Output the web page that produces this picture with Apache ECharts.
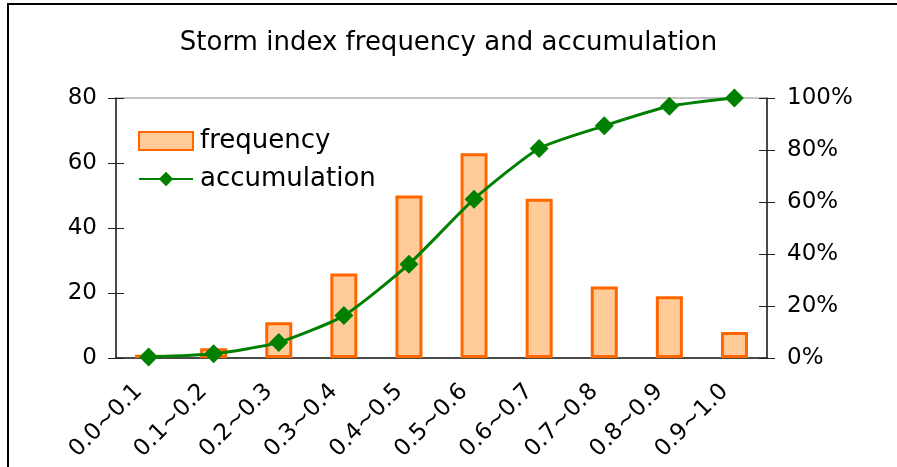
<!DOCTYPE html>
<html>
<head>
<meta charset="utf-8">
<script src="https://cdn.jsdelivr.net/npm/echarts@6/dist/echarts.min.js"></script>
<style>
  html, body { margin: 0; padding: 0; background: #fff; }
  #chart { width: 897px; height: 467px; }
</style>
</head>
<body>
<div id="chart"></div>
<script>
// storm index bins
const categories = ["0.0~0.1", "0.1~0.2", "0.2~0.3", "0.3~0.4", "0.4~0.5",
  "0.5~0.6", "0.6~0.7", "0.7~0.8", "0.8~0.9", "0.9~1.0"]
const frequency = [1, 3, 11, 26, 50, 63, 49, 22, 19, 8]
// cumulative percent
const accumulation = [0.4, 1.6, 6.0, 16.3, 36.1, 61.1, 80.6, 89.3, 96.8, 100]
const leftTicks = [0, 20, 40, 60, 80]
const rightTicks = [0, 20, 40, 60, 80, 100]

const font = "DejaVu Sans"
const axisColor = "#222"
const myChart = echarts.init(document.getElementById("chart"))

// plain axis used only to draw the inner half of the crossing ticks
const innerTicks = (pos, ticks) => ({
  type: "value",
  position: pos,
  min: ticks[0],
  max: ticks[ticks.length - 1],
  interval: 20,
  splitLine: { show: false },
  axisLine: { show: false },
  axisLabel: { show: false },
  axisTick: { show: true, inside: true, length: 8, lineStyle: { color: axisColor } }
})

const option = {
  animation: false,
  title: {
    text: "Storm index frequency and accumulation",
    left: "center",
    top: 25,
    textStyle: { fontFamily: font, fontSize: 26, fontWeight: "normal", color: "#000" }
  },
  graphic: [
    {
      type: "rect",
      shape: { x: 8, y: 4, width: 1000, height: 1000 },
      style: { fill: "none", stroke: "#000", lineWidth: 2 }
    }
  ],
  legend: {
    orient: "vertical",
    left: 133,
    top: 123,
    itemWidth: 54,
    itemHeight: 18,
    itemGap: 12,
    textStyle: { fontFamily: font, fontSize: 26, color: "#000", padding: [0, 0, 0, 2] },
    data: [{ name: "frequency", icon: "rect" }, { name: "accumulation" }]
  },
  grid: {
    left: 116,
    right: 130,
    top: 98,
    bottom: 109,
    show: true,
    borderColor: "#888",
    borderWidth: 1
  },
  xAxis: {
    type: "category",
    data: categories,
    axisLine: { lineStyle: { color: axisColor, width: 1.5 } },
    axisTick: { length: 8, lineStyle: { color: axisColor } },
    axisLabel: {
      rotate: 45,
      margin: 20,
      padding: [0, 14, 0, 0],
      fontFamily: font,
      fontSize: 23,
      color: "#000"
    }
  },
  yAxis: [
    {
      type: "value",
      min: leftTicks[0],
      max: leftTicks[leftTicks.length - 1],
      interval: 20,
      splitLine: { show: false },
      axisLine: { show: true, lineStyle: { color: axisColor, width: 1.5 } },
      axisTick: { show: true, length: 8, lineStyle: { color: axisColor } },
      axisLabel: { margin: 19, fontFamily: font, fontSize: 23, color: "#000" }
    },
    {
      type: "value",
      min: rightTicks[0],
      max: rightTicks[rightTicks.length - 1],
      interval: 20,
      splitLine: { show: false },
      axisLine: { show: true, lineStyle: { color: axisColor, width: 1.5 } },
      axisTick: { show: true, length: 8, lineStyle: { color: axisColor } },
      axisLabel: { margin: 20, fontFamily: font, fontSize: 23, color: "#000", formatter: "{value}%" }
    },
    innerTicks("left", leftTicks),
    innerTicks("right", rightTicks)
  ],
  series: [
    {
      name: "frequency",
      type: "bar",
      data: frequency,
      barWidth: 27,
      itemStyle: { color: "#FFCC99", borderColor: "#FF6600", borderWidth: 3 }
    },
    {
      name: "accumulation",
      type: "line",
      yAxisIndex: 1,
      data: accumulation,
      smooth: 0.2,
      symbol: "diamond",
      symbolSize: 19,
      lineStyle: { color: "#008000", width: 3 },
      itemStyle: { color: "#008000" }
    }
  ]
}

myChart.setOption(option)
</script>
</body>
</html>
